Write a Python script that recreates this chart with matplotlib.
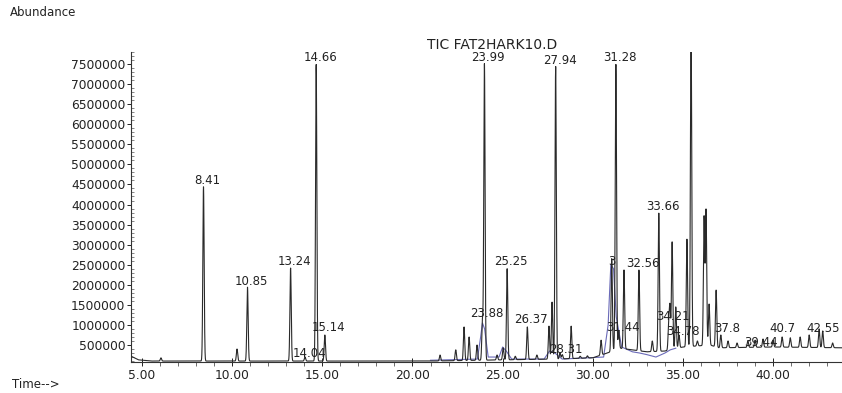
import numpy as np
import matplotlib
matplotlib.use("Agg")
import matplotlib.pyplot as plt
from matplotlib.ticker import MultipleLocator, FormatStrFormatter
from matplotlib.transforms import offset_copy

# ---------------- data ----------------
# retention time (min) and apex abundance of every visible peak
peak_rt = [6.05, 8.41, 10.27, 10.85, 13.24, 14.04, 14.66, 15.14,
           21.53, 22.40, 22.86, 23.14, 23.58, 23.88, 23.99, 24.69, 25.03, 25.25,
           25.70, 26.37, 26.90, 27.57, 27.74, 27.94, 28.18, 28.31, 28.80, 29.30,
           29.70, 30.46, 31.05, 31.28, 31.44, 31.73, 32.56, 33.30, 33.66, 34.21,
           34.28, 34.40, 34.60, 34.78, 35.22, 35.45, 35.80, 36.17, 36.28, 36.45,
           36.84, 37.10, 37.50, 38.00, 38.60, 39.00, 39.44, 40.00, 40.50, 40.95,
           41.50, 42.00, 42.55, 42.75, 43.30]
peak_height = [180000, 4440000, 400000, 1940000, 2420000, 200000, 7500000, 750000,
               250000, 380000, 950000, 700000, 500000, 1100000, 7500000, 250000, 430000, 2400000,
               220000, 950000, 250000, 970000, 1570000, 7450000, 300000, 260000, 970000, 220000,
               230000, 620000, 2650000, 7500000, 850000, 2370000, 2370000, 600000, 3790000, 1000000,
               1420000, 3070000, 1450000, 750000, 3140000, 8500000, 600000, 3690000, 3860000, 1520000,
               1870000, 750000, 600000, 550000, 600000, 620000, 650000, 620000, 700000, 680000,
               700000, 750000, 900000, 850000, 550000]

# baseline of the black trace (time, abundance)
base_t = [4.4, 4.8, 5.5, 21.0, 25.0, 28.0, 30.0, 30.8, 31.5, 33.0, 34.0, 35.0, 36.5, 37.0, 40.0, 43.9]
base_v = [220000, 130000, 100000, 100000, 130000, 150000, 180000, 300000, 420000, 330000,
          350000, 450000, 500000, 430000, 450000, 430000]

# second (blue) trace points
blue_t = [21.0, 23.6, 23.78, 23.88, 24.0, 24.2, 24.8, 25.0, 25.2, 25.5, 27.3, 27.6, 27.9,
          28.3, 30.6, 30.85, 31.0, 31.15, 31.3, 31.6, 32.2, 32.6, 33.0, 33.5, 34.0, 34.3, 34.6]
blue_v = [120000, 150000, 700000, 1050000, 900000, 200000, 200000, 450000, 350000, 150000,
          150000, 350000, 300000, 150000, 200000, 1000000, 2500000, 2400000, 1200000, 450000,
          330000, 300000, 260000, 200000, 300000, 380000, 420000]

# peak annotations: text, time, abundance
label_text = ["8.41", "10.85", "13.24", "14.66", "14.04", "15.14", "23.99", "23.88",
              "25.25", "26.37", "27.94", "28.31", "31.28", "3", "32.56", "31.44",
              "33.66", "34.21", "34.78", "37.8", "39.44", "40.7", "42.55"]
label_t = [8.41, 10.85, 13.24, 14.66, 14.04, 15.14, 23.99, 23.88,
           25.25, 26.37, 27.94, 28.31, 31.28, 30.83, 32.56, 31.44,
           33.66, 34.21, 34.78, 37.25, 39.10, 40.30, 42.55]
label_v = [4610000, 2094000, 2568000, 7675000, 276000, 924000, 7675000, 1297000,
           2568000, 1123000, 7600000, 400000, 7675000, 2568000, 2543000, 948000,
           3963000, 1198000, 824000, 899000, 560000, 899000, 899000]

y_ticks = list(range(500000, 7500001, 500000))
x_ticks = [5, 10, 15, 20, 25, 30, 35, 40]

# ---------------- figure ----------------
fig = plt.figure(figsize=(8.42, 3.93), dpi=100)
ax = fig.add_axes([131 / 842, 31 / 393, 711 / 842, 310 / 393])

t = np.arange(4.39, 43.9, 0.004)
trace = np.interp(t, base_t, base_v)
sigma = 0.036
for rt, h in zip(peak_rt, peak_height):
    b = np.interp(rt, base_t, base_v)
    trace = trace + (h - b) * np.exp(-0.5 * ((t - rt) / sigma) ** 2)

ax.plot(blue_t, blue_v, color="#6a6ab8", lw=0.8, zorder=2)
ax.plot(t, trace, color="#2a2a2a", lw=0.8, zorder=3)

ax.set_xlim(4.39, 43.82)
ax.set_ylim(76500, 7800000)

for s in ["top", "right"]:
    ax.spines[s].set_visible(False)
for s in ["left", "bottom"]:
    ax.spines[s].set_color("#333333")
    ax.spines[s].set_linewidth(0.8)

ax.set_yticks(y_ticks)
ax.yaxis.set_major_formatter(FormatStrFormatter("%d"))
ax.yaxis.set_minor_locator(MultipleLocator(100000))
ax.set_xticks(x_ticks)
ax.xaxis.set_major_formatter(FormatStrFormatter("%.2f"))
ax.xaxis.set_minor_locator(MultipleLocator(1))

ax.tick_params(axis="y", which="major", direction="out", length=3, width=0.7,
               pad=1, labelsize=8.8, colors="#222222")
ax.tick_params(axis="y", which="minor", direction="in", length=2, width=0.5, colors="#555555")
ax.tick_params(axis="x", which="major", direction="inout", length=6, width=0.7,
               pad=2, labelsize=8.8, colors="#222222")
ax.tick_params(axis="x", which="minor", direction="out", length=3, width=0.6, colors="#555555")
for lab in ax.get_xticklabels() + ax.get_yticklabels():
    lab.set_family("DejaVu Sans")

lab_tr = offset_copy(ax.transData, fig=fig, x=4, y=0, units="dots")
for txt, lt, lv in zip(label_text, label_t, label_v):
    ax.text(lt, lv, txt, transform=lab_tr, ha="center", va="center",
            fontsize=8.5, family="DejaVu Sans", color="#222222", clip_on=False, zorder=4)

fig.text(10 / 842, 1 - 13 / 393, "Abundance", ha="left", va="center",
         fontsize=8.5, family="DejaVu Sans", color="#222222")
fig.text(12 / 842, 1 - 384 / 393, "Time-->", ha="left", va="center",
         fontsize=8.5, family="DejaVu Sans", color="#222222")
fig.text(492 / 842, 1 - 45 / 393, "TIC FAT2HARK10.D", ha="center", va="center",
         fontsize=10, family="DejaVu Sans", color="#222222")

fig.savefig("out.png", dpi=100, facecolor="white")
